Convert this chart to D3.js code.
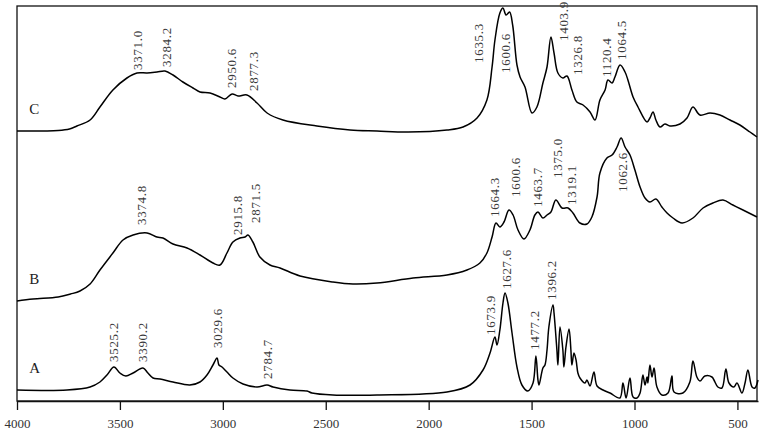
<!DOCTYPE html>
<html>
<head>
<meta charset="utf-8">
<script src="https://d3js.org/d3.v7.min.js"></script>
<style>
  body { margin: 0; background: #fff; }
  svg { display: block; }
</style>
</head>
<body>
<div id="chart"></div>
<script>
// wavenumbers (cm-1) and relative intensity (stacked, arbitrary units)
var waveA = [4000, 3757, 3645, 3597, 3563, 3529, 3500, 3471, 3436, 3388, 3364, 3339, 3305, 3242, 3160, 3111, 3077, 3048, 3028, 3019,
  3004, 2980, 2951, 2902, 2834, 2785, 2756, 2674, 2591, 2567, 2465, 2251, 1911, 1799, 1736, 1702, 1678, 1668, 1654, 1639,
  1629, 1615, 1595, 1571, 1547, 1518, 1493, 1479, 1469, 1464, 1445, 1435, 1425, 1416, 1396, 1391, 1377, 1372, 1362, 1348,
  1343, 1333, 1318, 1309, 1304, 1294, 1284, 1275, 1265, 1240, 1231, 1216, 1197, 1182, 1153, 1119, 1071, 1056, 1041, 1022,
  1007, 988, 973, 959, 949, 939, 935, 925, 915, 905, 891, 867, 837, 818, 808, 765, 731, 716, 697, 682,
  658, 624, 614, 595, 575, 556, 541, 517, 502, 478, 463, 449, 429, 415, 400];
var intensA = [11, 11, 14, 19, 26, 34, 28, 25, 28, 33, 28, 23, 22, 19, 16, 19, 26, 36, 43, 36,
  34, 29, 23, 17, 14, 16, 14, 11, 10, 8, 6, 6, 9, 16, 31, 48, 64, 56, 71, 98,
  108, 98, 68, 34, 16, 10, 18, 45, 21, 16, 33, 36, 51, 74, 96, 88, 51, 36, 74, 51,
  34, 54, 72, 51, 36, 48, 41, 28, 23, 18, 21, 15, 29, 15, 11, 8, 3, 18, 3, 23,
  4, 3, 8, 26, 16, 24, 18, 36, 24, 33, 14, 6, 8, 25, 9, 8, 19, 40, 24, 20,
  25, 24, 21, 14, 13, 32, 18, 14, 18, 8, 18, 31, 14, 13, 21];

var waveB = [4000, 3922, 3800, 3740, 3694, 3645, 3597, 3534, 3485, 3436, 3368, 3320, 3291, 3242, 3174, 3111, 3048, 3014, 2980, 2951,
  2917, 2892, 2878, 2854, 2820, 2771, 2722, 2625, 2465, 2368, 2251, 2076, 1911, 1814, 1751, 1717, 1692, 1673, 1654, 1634,
  1610, 1590, 1566, 1537, 1508, 1484, 1469, 1445, 1425, 1406, 1382, 1352, 1323, 1299, 1265, 1231, 1207, 1182, 1168, 1134,
  1109, 1085, 1065, 1046, 1022, 998, 973, 949, 925, 896, 867, 842, 813, 769, 716, 667, 619, 570, 522, 473, 405];
var intensB = [100, 102, 104, 107, 110, 117, 131, 148, 161, 166, 168, 164, 163, 157, 153, 146, 138, 136, 148, 159,
  163, 164, 166, 159, 144, 136, 133, 125, 119, 117, 118, 123, 126, 131, 138, 148, 164, 178, 174, 179,
  191, 186, 171, 162, 171, 186, 189, 183, 186, 189, 201, 193, 193, 188, 178, 177, 184, 204, 228, 243,
  246, 254, 263, 254, 246, 231, 214, 203, 199, 202, 194, 188, 183, 178, 183, 193, 198, 201, 196, 191, 184];

var waveC = [4000, 3800, 3745, 3709, 3645, 3597, 3534, 3466, 3417, 3368, 3320, 3281, 3242, 3194, 3145, 3111, 3062, 3014, 2990, 2955,
  2926, 2883, 2834, 2785, 2708, 2543, 2382, 2251, 2100, 1911, 1833, 1765, 1717, 1692, 1678, 1654, 1639, 1624, 1607, 1592,
  1571, 1556, 1532, 1498, 1474, 1445, 1425, 1406, 1391, 1372, 1348, 1328, 1304, 1280, 1250, 1216, 1192, 1168, 1143, 1129,
  1109, 1095, 1070, 1046, 1032, 1007, 983, 939, 925, 910, 896, 876, 852, 828, 779, 745, 716, 682, 633, 585,
  536, 488, 439, 405];
var intensC = [270, 270.5, 272, 275, 281, 294, 311, 323, 328, 328, 329, 330, 326, 319, 313, 309, 308, 304, 302, 307,
  305, 306, 298, 288, 281, 275, 271, 270, 269, 271, 274, 283, 301, 334, 361, 388, 393, 386, 389, 376,
  336, 324, 314, 288, 294, 318, 334, 364, 348, 328, 323, 325, 311, 299, 296, 289, 281, 301, 311, 321,
  318, 324, 336, 329, 321, 304, 294, 279, 283, 289, 281, 274, 277, 275, 277, 283, 294, 286, 288, 286,
  281, 276, 269, 264];

var tickValues = [4000, 3500, 3000, 2500, 2000, 1500, 1000, 500];

// peak labels: text, anchor wavenumber, anchor intensity (bottom of the rotated text)
var labelsA = [["3525.2", 3529, 39], ["3390.2", 3388, 39], ["3029.6", 3024, 53], ["2784.7", 2781, 22],
  ["1673.9", 1702, 66], ["1627.6", 1620, 112], ["1477.2", 1486, 51], ["1396.2", 1401, 101]];
var labelsB = [["3374.8", 3393, 176], ["2915.8", 2931, 166], ["2871.5", 2839, 178], ["1664.3", 1678, 184],
  ["1600.6", 1576, 204], ["1463.7", 1469, 194], ["1375.0", 1372, 223], ["1319.1", 1304, 196], ["1062.6", 1056, 209]];
var labelsC = [["3371.0", 3415, 331], ["3284.2", 3276, 334], ["2950.6", 2956, 313], ["2877.3", 2851, 310],
  ["1635.3", 1760, 338], ["1600.6", 1629, 328], ["1403.9", 1343, 360], ["1326.8", 1277, 326],
  ["1120.4", 1134, 324], ["1064.5", 1061, 341]];

var series = [
  {name: "A", wave: waveA, vals: intensA, labels: labelsA},
  {name: "B", wave: waveB, vals: intensB, labels: labelsB},
  {name: "C", wave: waveC, vals: intensC, labels: labelsC}
];

var width = 762, height = 441;
var font = "'Liberation Serif', 'DejaVu Serif', serif";

var svg = d3.select("#chart").append("svg")
  .attr("width", width)
  .attr("height", height);

var x = d3.scaleLinear().domain([4000, 400]).range([17, 758]);
var y = d3.scaleLinear().domain([0, 395]).range([401, 6]);

// frame
svg.append("rect")
  .attr("x", x(4000))
  .attr("y", y(395))
  .attr("width", x(400) - x(4000) - 1)
  .attr("height", y(0) - y(395))
  .attr("fill", "none")
  .attr("stroke", "#111")
  .attr("stroke-width", 1.3);

var xAxis = d3.axisBottom(x)
  .tickValues(tickValues)
  .tickSize(9)
  .tickSizeOuter(0)
  .tickPadding(9)
  .tickFormat(d3.format("d"));

var gx = svg.append("g")
  .attr("transform", "translate(0," + y(0) + ")")
  .call(xAxis);
gx.select(".domain").attr("stroke", "#111").attr("stroke-width", 1.3);
gx.selectAll(".tick line").attr("stroke", "#111").attr("stroke-width", 1.3);
gx.selectAll(".tick text")
  .style("font-family", font)
  .style("font-size", "13px")
  .attr("fill", "#333");

var line = d3.line()
  .x(function (d) { return x(d[0]); })
  .y(function (d) { return y(d[1]); })
  .curve(d3.curveCatmullRom.alpha(0.5));

series.forEach(function (s) {
  var pts = s.wave.map(function (w, i) { return [w, s.vals[i]]; });

  svg.append("path")
    .datum(pts)
    .attr("d", line)
    .attr("fill", "none")
    .attr("stroke", "#000")
    .attr("stroke-width", 1.5)
    .attr("stroke-linejoin", "round");

  // trace letter, a little above the start of the trace
  svg.append("text")
    .attr("x", x(3940))
    .attr("y", y(s.vals[0]) - 17)
    .style("font-family", font)
    .style("font-size", "15px")
    .attr("fill", "#222")
    .text(s.name);

  svg.selectAll(null)
    .data(s.labels)
    .enter()
    .append("text")
      .attr("transform", function (d) {
        return "translate(" + (x(d[1]) + 4.5) + "," + y(d[2]) + ") rotate(-90)";
      })
      .style("font-family", font)
      .style("font-size", "13px")
      .style("letter-spacing", "0.7px")
      .attr("fill", "#3a3a3a")
      .text(function (d) { return d[0]; });
});
</script>
</body>
</html>
